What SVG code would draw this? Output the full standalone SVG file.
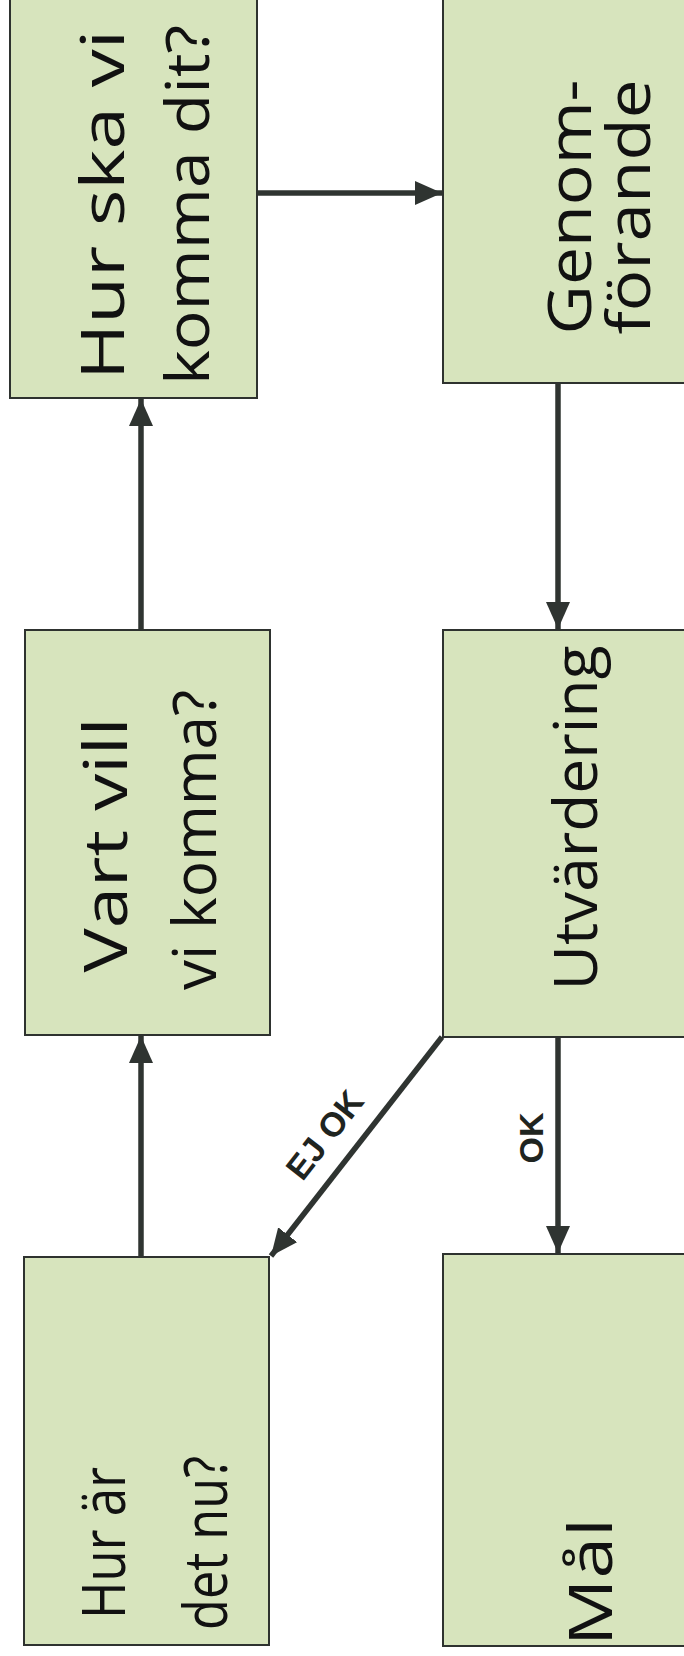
<svg xmlns="http://www.w3.org/2000/svg" width="684" height="1656" viewBox="0 0 684 1656">
<style>
.box{fill:#d7e4bd;stroke:#2e322f;stroke-width:2}
.hw{font-family:"Open Sans","DejaVu Sans",sans-serif;font-size:60px;fill:#111;text-anchor:middle}
.conn{stroke:#2f3431;stroke-width:5.5;fill:none}
.lbl{font-family:"Liberation Sans",Arial,sans-serif;font-weight:bold;font-size:34px;fill:#1f2420;text-anchor:middle}
</style>
<defs>
<marker id="ah" markerUnits="userSpaceOnUse" markerWidth="30" markerHeight="26" refX="27" refY="12" orient="auto">
<path d="M0,0 L27,12 L0,24 Z" fill="#2f3431"/>
</marker>
</defs>
<rect width="684" height="1656" fill="#fff"/>
<g id="connectors">
<line class="conn" x1="141" y1="1257" x2="141" y2="1036" marker-end="url(#ah)"/>
<line class="conn" x1="141" y1="630" x2="141" y2="399" marker-end="url(#ah)"/>
<line class="conn" x1="257" y1="193" x2="442" y2="193" marker-end="url(#ah)"/>
<line class="conn" x1="558" y1="383" x2="558" y2="629" marker-end="url(#ah)"/>
<line class="conn" x1="558" y1="1037" x2="558" y2="1253" marker-end="url(#ah)"/>
<line class="conn" x1="442" y1="1037" x2="271" y2="1256" marker-end="url(#ah)"/>
<text class="lbl" transform="translate(543,1138) rotate(-90)">OK</text>
<text class="lbl" transform="translate(334,1142) rotate(-52)">EJ OK</text>
</g>
<g id="n1">
<rect class="box" x="10" y="-5" width="247" height="403"/>
<text class="hw" transform="translate(124,205) rotate(-90)" textLength="350" lengthAdjust="spacingAndGlyphs">Hur ska vi</text>
<text class="hw" transform="translate(209,205) rotate(-90)" textLength="360" lengthAdjust="spacingAndGlyphs">komma dit?</text>
</g>
<g id="n2">
<rect class="box" x="443" y="-5" width="250" height="388"/>
<text class="hw" transform="translate(591,207) rotate(-90)" textLength="255" lengthAdjust="spacingAndGlyphs">Genom-</text>
<text class="hw" transform="translate(650,207) rotate(-90)" textLength="255" lengthAdjust="spacingAndGlyphs">förande</text>
</g>
<g id="n3">
<rect class="box" x="25" y="630" width="245" height="405"/>
<text class="hw" transform="translate(127,845) rotate(-90)" textLength="255" lengthAdjust="spacingAndGlyphs">Vart vill</text>
<text class="hw" transform="translate(216,840) rotate(-90)" textLength="300" lengthAdjust="spacingAndGlyphs">vi komma?</text>
</g>
<g id="n4">
<rect class="box" x="443" y="630" width="250" height="407"/>
<text class="hw" transform="translate(597,818) rotate(-90)" textLength="345" lengthAdjust="spacingAndGlyphs">Utvärdering</text>
</g>
<g id="n5">
<rect class="box" x="24" y="1257" width="245" height="388"/>
<text class="hw" transform="translate(125,1543) rotate(-90)" textLength="152" lengthAdjust="spacingAndGlyphs">Hur är</text>
<text class="hw" transform="translate(227,1543) rotate(-90)" textLength="174" lengthAdjust="spacingAndGlyphs">det nu?</text>
</g>
<g id="n6">
<rect class="box" x="443" y="1254" width="250" height="392"/>
<text class="hw" transform="translate(612,1582) rotate(-90)" textLength="128" lengthAdjust="spacingAndGlyphs">Mål</text>
</g>
</svg>
